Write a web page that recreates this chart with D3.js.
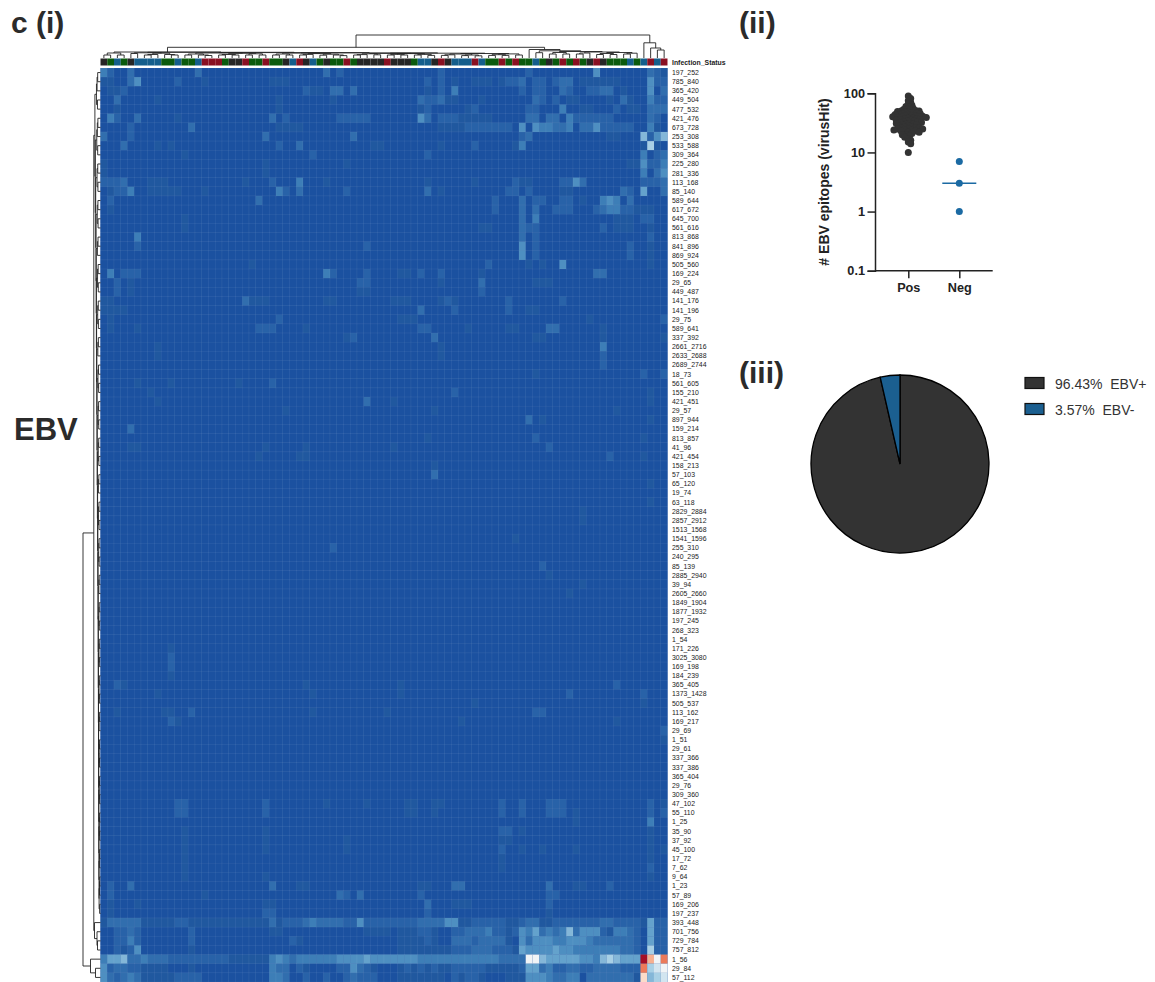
<!DOCTYPE html>
<html>
<head>
<meta charset="utf-8">
<script src="https://cdn.jsdelivr.net/npm/d3@7"></script>
<style>
  body { margin: 0; background: #fff; }
  text { font-family: "Liberation Sans", Arial, sans-serif; }
</style>
</head>
<body>
<svg id="chart" width="1155" height="982"></svg>
<script>
const rowLabels = ["197_252","785_840","365_420","449_504","477_532","421_476","673_728","253_308","533_588","309_364",
  "225_280","281_336","113_168","85_140","589_644","617_672","645_700","561_616","813_868","841_896",
  "869_924","505_560","169_224","29_65","449_487","141_176","141_196","29_75","589_641","337_392",
  "2661_2716","2633_2688","2689_2744","18_73","561_605","155_210","421_451","29_57","897_944","159_214",
  "813_857","41_96","421_454","158_213","57_103","65_120","19_74","63_118","2829_2884","2857_2912",
  "1513_1568","1541_1596","255_310","240_295","85_139","2885_2940","39_94","2605_2660","1849_1904","1877_1932",
  "197_245","268_323","1_54","171_226","3025_3080","169_198","184_239","365_405","1373_1428","505_537",
  "113_162","169_217","29_69","1_51","29_61","337_366","337_386","365_404","29_76","309_360",
  "47_102","55_110","1_25","35_90","37_92","45_100","17_72","7_62","9_64","1_23",
  "57_89","169_206","197_237","393_448","701_756","729_784","757_812","1_56","29_84","57_112"];

// infection status of each sample column, k/g/b/r
const columnStatus = "kgbgkbbbbggbggbrrrgkkrggrggkbrkbgkggrgkkkkrkkkgbbkrkbbbrbggrgrggbgkgrgrgkrkgggbgbrbr";

// cells above the background, per row: "column:level", level in hex
const rowHits = [
  "0:4 1:2 4:3 14:3 33:3 35:2 50:2 63:2 73:5 81:3 82:2 83:1",
  "0:1 1:1 4:3 5:5 11:2 15:1 25:1 26:1 27:1 48:2 50:2 52:1 55:1 56:1 57:1 59:1 60:2 61:2 62:3 64:2 65:2 67:2 68:3 69:3 71:1 72:1 73:1 74:1 75:1 76:1 81:5 82:2 83:2",
  "1:1 2:1 3:2 30:2 31:1 32:1 34:3 35:3 37:3 48:1 50:2 52:4 62:2 64:2 65:2 68:3 69:2 72:2 73:2 74:3 75:3 77:1 81:5 83:3",
  "2:3 8:1 26:1 34:1 47:3 48:2 49:2 50:3 51:1 52:1 56:1 64:3 65:2 67:2 69:1 70:1 75:1 77:3 78:1 81:4 82:2 83:2",
  "2:1 26:1 47:1 48:2 54:1 55:2 63:2 64:2 68:4 71:1 72:1 76:2 78:1 79:1 81:3 82:3 83:3",
  "1:4 2:2 5:3 11:1 25:3 27:2 35:2 36:2 37:2 38:2 39:2 47:5 48:3 50:2 51:2 52:2 53:1 54:1 55:1 56:1 57:1 63:3 64:3 66:3 67:3 69:4 70:2 71:2 72:2 73:2 74:2 75:2 81:3 82:2",
  "4:2 13:3 26:1 27:1 28:1 29:1 50:1 51:1 52:1 53:1 54:2 55:2 56:2 57:2 58:2 59:2 60:2 62:5 64:5 65:4 66:4 67:3 68:3 69:4 71:3 72:3 73:5 74:2 75:2 76:2 77:2 78:2 81:4 82:1",
  "0:3 4:2 24:3 37:3 62:2 63:3 75:1 76:1 80:7 81:2 82:5 83:7",
  "3:3 8:1 10:1 26:2 29:3 40:1 41:1 50:1 55:2 61:1 62:4 80:1 81:8 82:1",
  "12:1 31:2 48:2 80:4 82:2 83:3",
  "0:1 24:1 36:1 78:1 79:1 80:5 81:2 82:2 83:4",
  "0:1 24:1 80:4 82:3 83:5",
  "0:2 1:2 2:2 3:3 7:1 8:1 9:1 21:1 25:2 29:4 33:1 48:1 55:1 61:2 62:1 63:1 68:2 69:2 70:5 71:3 80:2 81:2 82:2 83:3",
  "1:1 2:2 3:2 4:4 7:1 8:1 9:1 10:1 11:1 15:1 26:4 27:2 29:3 36:2 48:3 50:1 60:2 61:2 63:2 68:1 69:1 77:3 78:2 80:6 83:3",
  "1:2 23:3 58:2 62:3 64:2 65:2 68:2 69:2 71:1 74:4 75:5 76:4 78:3",
  "1:1 58:2 62:3 64:3 67:2 68:2 69:2 73:2 74:3 75:4 76:4 77:2 78:2 79:1 80:1 81:1",
  "12:1 62:3 64:4 76:1 77:1 78:1 80:2 81:2",
  "12:1 56:1 57:1 62:3 63:2 64:2 74:2 76:1 77:1 78:1 81:1",
  "5:4 62:3 64:2 81:2",
  "5:2 39:2 62:5 64:2 78:2 81:1",
  "62:5 64:2 78:2 81:1",
  "22:1 57:2 63:1 65:1 68:5 81:1",
  "1:4 3:2 4:2 5:2 33:4 34:2 39:2 44:1 45:1 47:2 50:2 56:1 73:3 74:3",
  "2:2 4:1 38:2 39:2 50:1 56:3 64:1 65:1 66:1",
  "2:2 4:1 38:1 39:1 56:2",
  "0:1 1:1 21:3 22:1 23:1 24:1 33:1 34:1 43:1 44:1 45:1 50:1 51:2 52:1 60:2 68:2",
  "0:1 1:1 2:1 3:1 47:3 52:2 60:2 63:1 64:1",
  "1:1 26:2 44:1 45:1 46:1 72:1 83:2",
  "1:1 5:1 23:2 24:2 25:2 30:1 47:2 48:2 54:1 60:1 61:1 66:3 67:3 74:1",
  "36:1 37:2 49:3 64:1 65:1 74:1 83:1",
  "8:1 50:1 74:4",
  "8:1 50:1 74:2",
  "74:2",
  "64:1 80:2 83:2",
  "5:1 10:1 20:1 25:2",
  "7:1 52:2 81:1",
  "8:1 39:3 43:1 81:1",
  "27:1 49:1 76:1",
  "63:3 65:1 81:1",
  "4:3",
  "48:1 64:2 80:1",
  "4:1 5:1 24:1 30:1 43:1 66:2",
  "23:1 29:1 30:1 75:2 80:1",
  "49:1",
  "49:3",
  "81:1",
  "",
  "81:1",
  "71:1",
  "71:1",
  "",
  "61:1",
  "34:2",
  "",
  "65:2",
  "66:1",
  "71:1",
  "69:1",
  "", "", "", "", "",
  "10:1",
  "10:2",
  "10:2",
  "10:1",
  "2:2 3:1 30:1 44:1 76:2",
  "8:1 31:1 44:1 69:2 80:2",
  "55:1 80:1",
  "2:1 9:1 10:1 13:2 31:1 42:1 64:2 65:2",
  "10:2 11:1 53:1 76:1",
  "83:2",
  "83:1",
  "", "", "", "", "", "",
  "11:2 12:2 24:2 33:1 39:1 45:1 46:1 49:1 50:1 59:2 62:2 66:2 67:2 68:2 81:2 83:1",
  "11:2 12:2 24:2 45:1 46:1 49:1 59:2 62:2 66:2 67:2 68:2 70:1 81:2 83:2",
  "70:1 81:4",
  "12:1 24:1 59:2 60:2 62:1 81:1",
  "12:1 24:1 36:1 59:1 60:1 81:1",
  "12:1 24:1 36:1 59:2 62:1 65:1 70:1 81:1 83:1",
  "12:1 59:1 81:1",
  "12:1 59:1 81:2",
  "12:1 24:1 81:1",
  "1:2 4:3 25:3 29:1 30:1 47:1 48:1 52:3 53:3 66:3 70:1 71:1 75:2",
  "1:2 15:1 35:3 36:2 38:3 47:2 66:2 67:2",
  "1:1 5:1 24:1 25:1 48:3 52:1 53:1 54:1 66:2",
  "1:1 24:2 25:2 48:2 66:1",
  "0:1 1:3 2:3 3:3 4:3 5:3 6:1 7:1 8:1 9:1 10:1 11:2 12:2 13:1 14:1 15:1 16:1 17:1 18:1 19:1 20:1 21:1 22:1 23:1 24:1 25:3 26:1 27:2 28:2 29:2 30:3 31:4 32:3 33:3 34:3 35:3 36:2 37:2 38:5 39:2 40:2 41:2 42:2 43:2 44:2 45:2 46:2 47:3 48:3 49:3 50:3 51:5 52:5 53:1 54:1 55:2 56:2 57:2 58:2 59:2 60:1 61:1 62:2 63:3 64:3 65:1 66:1 67:2 68:2 69:2 70:2 71:2 72:2 73:2 74:3 75:3 76:2 77:2 78:2 79:2 80:1 81:6 82:2 83:2",
  "2:2 3:2 4:3 5:2 13:2 25:1 26:1 39:1 40:1 41:1 42:1 44:1 45:1 46:1 47:2 48:2 49:1 52:2 53:2 54:3 55:3 56:3 57:4 58:2 59:2 60:1 61:2 62:5 63:4 64:6 65:3 66:4 67:3 68:4 69:7 70:3 71:5 72:5 73:5 74:2 75:1 76:4 77:4 78:3 79:2 81:6 82:2 83:2",
  "2:2 3:2 4:4 5:2 13:2 28:2 29:1 44:1 45:1 46:1 47:1 48:2 49:1 52:3 53:3 54:3 55:2 56:3 57:3 58:3 59:3 60:1 62:5 63:3 64:5 65:5 66:5 67:4 68:4 69:5 70:5 71:5 72:4 73:3 74:3 75:3 76:3 77:3 78:3 79:2 81:6 82:2 83:2",
  "2:2 3:1 4:2 5:5 13:1 44:1 45:1 46:1 47:1 48:1 49:1 50:1 51:1 52:2 53:2 54:2 55:3 56:3 57:3 58:2 59:2 60:2 61:1 62:6 63:5 64:5 65:5 66:5 67:6 68:5 69:5 70:4 71:4 72:4 73:4 74:4 75:4 76:4 77:3 78:3 79:2 81:8 82:2 83:2",
  "0:4 1:6 2:6 3:7 4:3 5:3 6:4 7:3 8:3 9:3 10:2 11:2 12:2 13:2 14:2 15:2 16:2 17:2 18:2 19:1 20:1 21:1 22:1 23:1 24:1 25:4 26:5 27:4 28:3 29:4 30:4 31:4 32:4 33:4 34:4 35:5 36:5 37:5 38:5 39:6 40:5 41:5 42:5 43:5 44:5 45:5 46:5 47:4 48:4 49:4 50:4 51:4 52:4 53:4 54:4 55:4 56:4 57:4 58:4 59:3 60:3 61:3 62:3 63:a 64:a 65:7 66:6 67:6 68:6 69:6 70:6 71:5 72:5 73:4 74:7 75:8 76:7 77:6 78:6 79:6 80:f 81:c 82:a 83:d",
  "0:5 1:2 2:3 3:3 4:2 5:2 6:1 7:1 8:1 9:1 13:1 25:4 26:3 27:3 29:2 30:1 35:2 36:2 37:5 38:3 39:2 40:1 44:1 45:2 46:1 47:2 48:1 49:2 50:1 51:1 52:2 53:2 54:2 55:2 56:2 57:1 58:1 59:1 60:1 61:1 62:2 63:6 64:6 65:3 66:4 67:2 68:2 69:3 70:3 71:2 72:2 73:3 74:3 75:3 76:3 77:2 78:2 79:2 80:d 81:8 82:9 83:a",
  "0:5 1:3 2:2 3:3 4:4 5:3 6:1 7:1 8:1 9:1 10:1 11:2 12:2 13:2 14:2 25:4 26:4 27:3 30:2 33:2 36:2 37:3 38:2 39:2 40:2 44:1 45:1 46:1 47:1 48:1 49:1 50:1 52:2 53:1 54:2 55:2 56:1 60:1 61:1 62:1 63:5 64:5 65:5 66:4 67:3 68:3 69:4 70:4 72:3 73:3 74:3 75:3 76:3 77:3 78:3 79:1 80:b 81:7 82:8 83:9"
];

const levelColors = ["#1b51a0","#20589f","#2862a8","#316eae","#3d7eb7","#4e8fc1","#64a2cc","#84b7d8","#a8d0e5","#d2e5f0",
  "#f1f4f6","#fbdcc9","#f6b090","#ec7a5a","#d73c35","#a50f26"];
const statusColors = { k: "#262626", g: "#0b5a0d", b: "#155e8c", r: "#8a1022" };

// dot plot
const posEpitopes = [10,14,15,16,17,18,19,20,20,21,22,22,23,23,24,24,24,25,25,25,26,26,26,27,27,28,28,29,29,30,
  30,31,31,32,32,33,33,34,34,35,35,36,36,37,37,38,38,39,39,40,40,40,41,41,42,42,43,44,44,45,
  45,46,47,48,48,49,50,50,51,52,53,54,56,58,60,63,66,70,75,82,90];
const negEpitopes = [7, 3, 1];
const negMedian = 3;
const epitopeTicks = [100, 10, 1, 0.1];
const groupNames = ["Pos", "Neg"];

// pie
const pieNames = ["EBV+", "EBV-"];
const pieValues = [96.43, 3.57];
const pieColors = ["#333333", "#1b5f90"];

// column dendrogram: [height, left, right], 0 is a leaf
const pair = h => [h, 0, 0];
const columnTree = [23,
  [10.7,
    [6,
      [5, pair(3), pair(3)],
      [5.7,
        [5.2, pair(4.5), [4.8, [3.5, pair(3), 0], [3.5, 0, pair(3)]]],
        [5.4,
          [5, [4, pair(3), [3, 0, pair(2.5)]], [4.7, [3.5, pair(3), pair(3)], [4.2, pair(3), pair(3)]]],
          [5.1,
            [4.9, [4, pair(3), pair(3)], [4.4, [3.6, pair(3), 0], [3.8, pair(2.8), [3, 0, pair(2.4)]]]],
            [4.8,
              [4.6, [4.2, [3.4, pair(3), 0], pair(3.2)], [4.4, [3.6, pair(3), pair(3)], [3.6, pair(3), pair(2.6)]]],
              [4.5, [4, [3.2, pair(2.6), 0], [3, pair(2.4), pair(2.2)]], [4.1, [3.3, pair(2.6), pair(2.6)], pair(3)]]
            ]
          ]
        ]
      ]
    ],
    [8.5, 0,
      [7.2, pair(5.3),
        [6.5, [5.5, pair(4), pair(4)],
          [6, [5, pair(4), 0], [5.5, [4.5, pair(3.5), pair(3.5)], [4.8, pair(4), 0]]]
        ]
      ]
    ]
  ],
  [15.2, 0, [10, 0, [8, 0, 0]]]
];

// row dendrogram: long chain of small blocks, then the two clusters at the bottom
const rowBlockSizes = [5,5,4,4,3,4,4,3,4,4,4,3,4,4,3,4,4,4,3,4,4,4,3,3,2];
const rowChainHeights = [5.6,5.2,4.8,4.5,4.3,4.1,3.9,3.7,3.5,3.3,3.1,2.9,2.7,2.5,2.3,2.2,2.1,2,1.9,1.8,1.7,1.6,1.5,1.4,1.2];

const makeBlock = (size, h) => {
  if (size === 2) return pair(h);
  if (size === 3) return [h, pair(h * .8), 0];
  if (size === 4) return [h, pair(h * .8), pair(h * .75)];
  return [h, [h * .85, pair(h * .7), 0], pair(h * .75)];
};
const rowBlocks = rowBlockSizes.map((s, i) => makeBlock(s, rowChainHeights[i] * .72));
const rowChain = rowBlocks.slice(0, -1).reduceRight((rest, block, i) => [rowChainHeights[i], block, rest], rowBlocks[rowBlocks.length - 1]);
const rowTree = [17.5,
  [6.7, rowChain, [6, 0, [3.5, 0, [3, 0, 0]]]],
  [10, 0, [5, 0, 0]]
];

const svg = d3.select("#chart");
const textColor = "#2b2b2b";

// --- panel (i): heatmap
const x = d3.scaleBand().domain(d3.range(columnStatus.length)).range([100.5, 667.5]);
const y = d3.scaleBand().domain(d3.range(rowLabels.length)).range([68, 982]);
const color = d3.scaleLinear().domain(d3.range(levelColors.length)).range(levelColors);

const cells = [];
rowHits.forEach((hits, r) => {
  const levels = new Array(columnStatus.length).fill(0);
  hits.split(" ").filter(Boolean).forEach(h => {
    const [c, l] = h.split(":");
    levels[+c] = parseInt(l, 16);
  });
  levels.forEach((v, c) => cells.push({ r, c, v }));
});

// backing rect so the page white does not bleed through cell seams
svg.append("rect")
  .attr("x", x.range()[0])
  .attr("y", y.range()[0])
  .attr("width", x.range()[1] - x.range()[0])
  .attr("height", y.range()[1] - y.range()[0])
  .attr("fill", levelColors[0]);

svg.append("g").selectAll("rect")
  .data(cells)
  .enter()
  .append("rect")
  .attr("x", d => x(d.c))
  .attr("y", d => y(d.r))
  .attr("width", x.bandwidth())
  .attr("height", y.bandwidth())
  .attr("fill", d => color(d.v))
  .attr("stroke", "#fff")
  .attr("stroke-opacity", 0.09)
  .attr("stroke-width", 0.5);

svg.append("g").selectAll("rect")
  .data(columnStatus.split(""))
  .enter()
  .append("rect")
  .attr("x", (d, i) => x(i))
  .attr("y", 58.5)
  .attr("width", x.bandwidth())
  .attr("height", 7)
  .attr("fill", d => statusColors[d]);

svg.append("text")
  .attr("x", 672)
  .attr("y", 64.5)
  .attr("font-size", 6.9)
  .attr("font-weight", "bold")
  .attr("fill", "#222")
  .text("Infection_Status");

svg.append("g").selectAll("text")
  .data(rowLabels)
  .enter()
  .append("text")
  .attr("x", 672)
  .attr("y", (d, i) => y(i) + y.bandwidth() / 2 + 2.4)
  .attr("font-size", 6.9)
  .attr("fill", "#222")
  .text(d => d);

// dendrograms share one layout: leaf position from a band scale, parent at the midpoint
function drawDendrogram(tree, band, heightScale, horizontal) {
  const root = d3.hierarchy(tree, d => Array.isArray(d) ? d.slice(1) : null);
  root.leaves().forEach((leaf, i) => { leaf.pos = band(i) + band.bandwidth() / 2; });
  root.eachAfter(n => {
    n.h = n.children ? n.data[0] : 0;
    if (n.children) n.pos = (n.children[0].pos + n.children[1].pos) / 2;
  });
  const links = root.descendants().filter(n => n.children);
  svg.append("g").selectAll("path")
    .data(links)
    .enter()
    .append("path")
    .attr("fill", "none")
    .attr("stroke", "#222")
    .attr("stroke-width", 0.9)
    .attr("d", n => {
      const [a, b] = n.children;
      const top = heightScale(n.h);
      if (horizontal) {
        return `M${a.pos},${heightScale(a.h)}V${top}H${b.pos}V${heightScale(b.h)}`;
      }
      return `M${heightScale(a.h)},${a.pos}H${top}V${b.pos}H${heightScale(b.h)}`;
    });
}

drawDendrogram(columnTree, x, d3.scaleLinear().domain([0, 23]).range([58, 35]), true);
drawDendrogram(rowTree, y, d3.scaleLinear().domain([0, 17.5]).range([100.5, 83]), false);

// --- panel (ii): epitope counts
const yLog = d3.scaleLog().domain([0.1, 100]).range([270.7, 93.3]);
const xGroup = d3.scalePoint().domain(groupNames).range([908.3, 959.3]);

const axisY = svg.append("g")
  .attr("transform", "translate(875,0)")
  .call(d3.axisLeft(yLog).tickValues(epitopeTicks).tickFormat(d => d).tickSizeOuter(0).tickSize(7.5));
const axisX = svg.append("g")
  .attr("transform", "translate(0,270.7)")
  .call(d3.axisBottom(xGroup).tickSizeOuter(0).tickSize(7.5));
axisX.select(".domain").attr("d", "M875,0H992.7");
[axisY, axisX].forEach(a => {
  a.selectAll("path,line").attr("stroke", "#222").attr("stroke-width", 1.5);
  a.selectAll("text").attr("font-family", "Liberation Sans").attr("font-weight", "bold").attr("fill", "#222");
});
axisY.selectAll("text").attr("font-size", 12.7).attr("x", -10);
axisX.selectAll("text").attr("font-size", 12.7).attr("dy", "1.05em").attr("y", 8);

// simple beeswarm, dots are allowed to overlap a lot
const swarmGap = 2.8;
const placed = [];
const swarm = posEpitopes.slice().sort(d3.descending).map(v => {
  const py = yLog(v);
  let offset = 0;
  for (let k = 0; k < 40; k++) {
    offset = (k % 2 ? 1 : -1) * Math.ceil(k / 2) * 1.2;
    if (!placed.some(p => Math.hypot(p.x - offset, p.y - py) < swarmGap)) break;
  }
  const p = { x: offset, y: py };
  placed.push(p);
  return p;
});

svg.append("g").selectAll("circle")
  .data(swarm)
  .enter()
  .append("circle")
  .attr("cx", d => xGroup("Pos") + d.x)
  .attr("cy", d => d.y)
  .attr("r", 3.5)
  .attr("fill", "#333");

svg.append("g").selectAll("circle")
  .data(negEpitopes)
  .enter()
  .append("circle")
  .attr("cx", xGroup("Neg"))
  .attr("cy", d => yLog(d))
  .attr("r", 3.5)
  .attr("fill", "#1b6aa3");

svg.append("line")
  .attr("x1", xGroup("Neg") - 17)
  .attr("x2", xGroup("Neg") + 17)
  .attr("y1", yLog(negMedian))
  .attr("y2", yLog(negMedian))
  .attr("stroke", "#1b6aa3")
  .attr("stroke-width", 1.5);

svg.append("text")
  .attr("transform", "translate(829,182) rotate(-90)")
  .attr("text-anchor", "middle")
  .attr("font-size", 14)
  .attr("font-weight", "bold")
  .attr("fill", "#222")
  .text("# EBV epitopes (virusHit)");

// --- panel (iii): pie
const pie = d3.pie().sort(null).value(d => d);
const arc = d3.arc().innerRadius(0).outerRadius(89);

svg.append("g")
  .attr("transform", "translate(900,464)")
  .selectAll("path")
  .data(pie(pieValues))
  .enter()
  .append("path")
  .attr("d", arc)
  .attr("fill", (d, i) => pieColors[i])
  .attr("stroke", "#000")
  .attr("stroke-width", 1.3);

const legend = svg.append("g").selectAll("g")
  .data(pieValues)
  .enter()
  .append("g")
  .attr("transform", (d, i) => `translate(1025,${377.5 + i * 26})`);
legend.append("rect")
  .attr("width", 19)
  .attr("height", 11)
  .attr("fill", (d, i) => pieColors[i])
  .attr("stroke", "#111")
  .attr("stroke-width", 1.2);
legend.append("text")
  .attr("x", 30)
  .attr("y", 11)
  .attr("font-size", 14)
  .attr("fill", "#333")
  .text((d, i) => `${d}%\u00a0\u00a0${pieNames[i]}`);

// --- panel letters
const panelLabels = [
  { text: "c (i)", x: 11, y: 33, size: 30 },
  { text: "(ii)", x: 739, y: 33, size: 30 },
  { text: "(iii)", x: 739, y: 383, size: 30 },
  { text: "EBV", x: 14, y: 440, size: 31 }
];
svg.append("g").selectAll("text")
  .data(panelLabels)
  .enter()
  .append("text")
  .attr("x", d => d.x)
  .attr("y", d => d.y)
  .attr("font-size", d => d.size)
  .attr("font-weight", "bold")
  .attr("fill", textColor)
  .text(d => d.text);
</script>
</body>
</html>
